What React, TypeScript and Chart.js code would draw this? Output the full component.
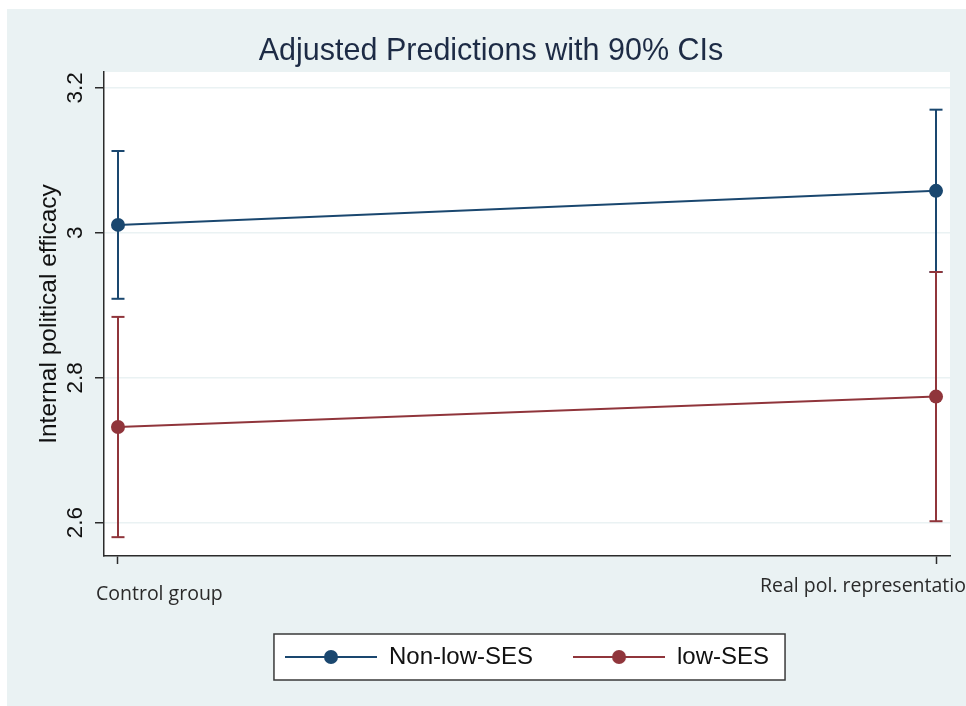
import React, { useEffect, useRef } from "react";
import { Chart, registerables } from "chart.js";

Chart.register(...registerables);

// ---- data ----
const categories = ["Control group", "Real pol. representation"];
const seriesNames = ["Non-low-SES", "low-SES"];
const nonLowMean = [3.011, 3.058];
const nonLowLower = [2.909, 2.946];
const nonLowUpper = [3.113, 3.17];
const lowMean = [2.732, 2.774];
const lowLower = [2.58, 2.602];
const lowUpper = [2.884, 2.946];
const yTicks = [2.6, 2.8, 3.0, 3.2];
const yTickLabels = ["2.6", "2.8", "3", "3.2"];
const chartTitle = "Adjusted Predictions with 90% CIs";
const yAxisTitle = "Internal political efficacy";

// ---- style ----
const BLUE = "#1a476f";
const RED = "#90353b";
const BG = "#eaf2f3";
const GRID = "#eaf2f3";
const AXIS = "#2b2b2b";
const ARIAL = "'Liberation Sans', Arial, sans-serif";
const SEGOE = "'Open Sans', 'Noto Sans', sans-serif";

function makeLegendIcon(color: string) {
  const c = document.createElement("canvas");
  c.width = 92;
  c.height = 16;
  const g = c.getContext("2d")!;
  g.strokeStyle = color;
  g.lineWidth = 2;
  g.beginPath();
  g.moveTo(0, 8);
  g.lineTo(92, 8);
  g.stroke();
  g.fillStyle = color;
  g.beginPath();
  g.arc(46, 8, 7, 0, Math.PI * 2);
  g.fill();
  return c;
}

function meanDataset(label: string, values: number[], color: string, order: number) {
  return {
    label,
    data: values.map((y, i) => ({ x: i, y })),
    borderColor: color,
    backgroundColor: color,
    borderWidth: 2,
    pointRadius: 7,
    pointHoverRadius: 7,
    pointBackgroundColor: color,
    pointBorderColor: color,
    pointBorderWidth: 0,
    tension: 0,
    order,
  };
}

function ciDataset(lo: number[], hi: number[], i: number, color: string, order: number) {
  return {
    label: "ci",
    data: [
      { x: i, y: lo[i] },
      { x: i, y: hi[i] },
    ],
    borderColor: color,
    backgroundColor: color,
    borderWidth: 2,
    pointStyle: "line",
    pointRadius: 6.5,
    pointHoverRadius: 6.5,
    pointBorderColor: color,
    pointBorderWidth: 2,
    order,
  };
}

export default function App() {
  const ref = useRef<HTMLCanvasElement>(null);

  useEffect(() => {
    document.body.style.margin = "0";
    const icons = [makeLegendIcon(BLUE), makeLegendIcon(RED)];

    const stataPlugin = {
      id: "stataLook",
      afterLayout(chart: any) {
        if (chart.titleBlock) chart.titleBlock.left = 32;
      },
      beforeDraw(chart: any) {
        const { ctx, chartArea: a, width, height } = chart;
        ctx.save();
        ctx.fillStyle = "#ffffff";
        ctx.fillRect(0, 0, width, height);
        ctx.fillStyle = BG;
        ctx.fillRect(7, 9, width - 7, height - 9);
        ctx.fillStyle = "#ffffff";
        ctx.fillRect(a.left, a.top, a.right - a.left, a.bottom - a.top);
        const boxes = chart.legend && chart.legend.legendHitBoxes;
        if (boxes && boxes.length) {
          let l = Infinity, r = -Infinity, cy = 0;
          boxes.forEach((b: any) => {
            l = Math.min(l, b.left);
            r = Math.max(r, b.left + b.width);
            cy = b.top + b.height / 2;
          });
          const bx = l - 11, by = cy - 23, bw = r + 16 - bx, bh = 46;
          ctx.fillStyle = "#ffffff";
          ctx.fillRect(bx, by, bw, bh);
          ctx.strokeStyle = "#3a3a3a";
          ctx.lineWidth = 1.5;
          ctx.strokeRect(bx, by, bw, bh);
        }
        ctx.restore();
      },
      afterDraw(chart: any) {
        const { ctx } = chart;
        const xs = chart.scales.x;
        const bottom = chart.chartArea.bottom;
        const offsets = [
          { dx: -22, dy: 44 },
          { dx: -176, dy: 36 },
        ];
        ctx.save();
        ctx.font = `19.5px ${SEGOE}`;
        ctx.fillStyle = "#2a2a2a";
        ctx.textAlign = "left";
        ctx.textBaseline = "alphabetic";
        categories.forEach((c, i) => {
          const px = xs.getPixelForValue(i);
          ctx.fillText(c, px + offsets[i].dx, bottom + offsets[i].dy);
        });
        ctx.restore();
      },
    };

    const datasets: any[] = [
      meanDataset(seriesNames[0], nonLowMean, BLUE, 2),
      meanDataset(seriesNames[1], lowMean, RED, 0),
      ciDataset(nonLowLower, nonLowUpper, 0, BLUE, 3),
      ciDataset(nonLowLower, nonLowUpper, 1, BLUE, 3),
      ciDataset(lowLower, lowUpper, 0, RED, 1),
      ciDataset(lowLower, lowUpper, 1, RED, 1),
    ];

    const chart = new Chart(ref.current!, {
      type: "line",
      data: { datasets },
      plugins: [stataPlugin],
      options: {
        responsive: false,
        animation: false,
        devicePixelRatio: 1,
        layout: { padding: { left: 0, right: 16, top: 0, bottom: 27 } },
        plugins: {
          tooltip: { enabled: false },
          title: {
            display: true,
            text: chartTitle,
            color: "#1d2b45",
            font: { family: ARIAL, size: 30.5, weight: "normal" },
            padding: { top: 33.7, bottom: 1.7 },
          },
          legend: {
            position: "bottom",
            fullSize: false,
            labels: {
              usePointStyle: true,
              pointStyleWidth: 92,
              boxHeight: 16,
              padding: 40,
              color: "#111111",
              font: { family: ARIAL, size: 24 },
              generateLabels: (ch: any) => {
                const items = (Chart.defaults.plugins.legend.labels as any).generateLabels(ch);
                return items
                  .filter((it: any) => it.datasetIndex < 2)
                  .sort((a: any, b: any) => a.datasetIndex - b.datasetIndex)
                  .map((it: any) => ({ ...it, pointStyle: icons[it.datasetIndex], fontColor: "#111111" }));
              },
            },
          },
        },
        scales: {
          x: {
            type: "linear",
            min: -0.0171,
            max: 1.0171,
            afterBuildTicks: (s: any) => {
              s.ticks = categories.map((_, i) => ({ value: i }));
            },
            afterFit: (s: any) => {
              s.height = 49;
            },
            ticks: { display: false },
            grid: {
              drawOnChartArea: false,
              drawTicks: true,
              tickLength: 8,
              color: AXIS,
              tickColor: AXIS,
              tickWidth: 1.5,
            },
            border: { color: AXIS, width: 1.5 },
          },
          y: {
            type: "linear",
            min: 2.554,
            max: 3.222,
            afterBuildTicks: (s: any) => {
              s.ticks = yTicks.map((v) => ({ value: v }));
            },
            afterFit: (s: any) => {
              s.width = 104;
            },
            ticks: {
              callback: (_v: any, i: number) => yTickLabels[i],
              minRotation: 90,
              maxRotation: 90,
              crossAlign: "center",
              padding: 4,
              color: "#111111",
              font: { family: ARIAL, size: 22.5 },
            },
            grid: {
              color: GRID,
              lineWidth: 1.5,
              tickColor: AXIS,
              tickLength: 9,
              tickWidth: 1.5,
            },
            border: { color: AXIS, width: 1.5 },
            title: {
              display: true,
              text: yAxisTitle,
              color: "#111111",
              font: { family: ARIAL, size: 24.5 },
              padding: { top: 35, bottom: 0 },
            },
          },
        },
      } as any,
    });

    return () => chart.destroy();
  }, []);

  return <canvas ref={ref} width={966} height={706} style={{ display: "block", width: 966, height: 706 }} />;
}
